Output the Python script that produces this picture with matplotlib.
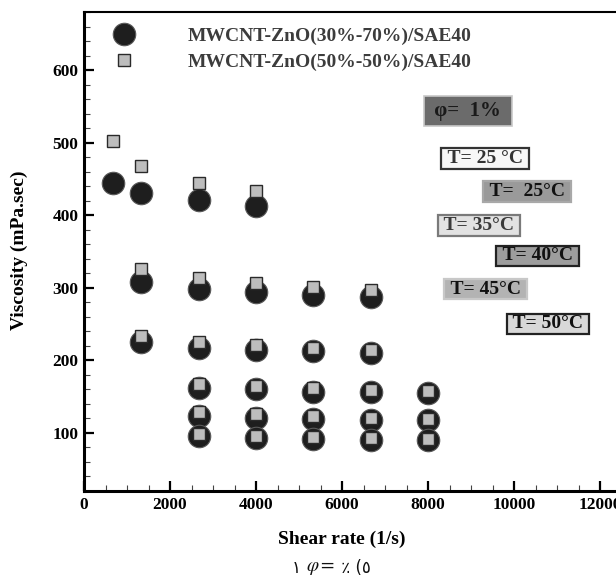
import matplotlib
matplotlib.use("Agg")
import matplotlib.pyplot as plt
from matplotlib.ticker import MultipleLocator
from matplotlib.lines import Line2D

# Shear rates (1/s) for each temperature group
rate_g1 = [667, 1333, 2667, 4000]
rate_g23 = [1333, 2667, 4000, 5333, 6667]
rate_g456 = [2667, 4000, 5333, 6667, 8000]
group_rates = [rate_g1, rate_g23, rate_g23, rate_g456, rate_g456, rate_g456]

# Viscosity (mPa.sec), MWCNT-ZnO(30%-70%)/SAE40
visc_30_70 = [
    [445, 430, 421, 413],
    [308, 298, 294, 290, 287],
    [225, 217, 214, 213, 210],
    [162, 160, 157, 156, 155],
    [124, 121, 119, 118, 118],
    [96, 93, 92, 90, 90],
]

# Viscosity (mPa.sec), MWCNT-ZnO(50%-50%)/SAE40
visc_50_50 = [
    [502, 468, 444, 433],
    [326, 313, 306, 301, 297],
    [234, 225, 221, 217, 214],
    [167, 165, 162, 159, 158],
    [129, 126, 123, 121, 119],
    [99, 96, 94, 93, 92],
]

series_labels = ["MWCNT-ZnO(30%-70%)/SAE40", "MWCNT-ZnO(50%-50%)/SAE40"]
phi_label = "φ=  1%"
temp_labels = ["T= 25 °C", "T=  25°C", "T= 35°C", "T= 40°C", "T= 45°C", "T= 50°C"]
x_ticks = [0, 2000, 4000, 6000, 8000, 10000, 12000]
y_ticks = [100, 200, 300, 400, 500, 600]

serif = ["Liberation Serif", "DejaVu Serif"]
plt.rcParams["font.family"] = serif
plt.rcParams["mathtext.fontset"] = "stix"

W, H = 616, 583
fig = plt.figure(figsize=(W / 100, H / 100), dpi=100)
ax = fig.add_axes([84 / W, 92 / H, (620 - 84) / W, 479 / H])

circle_style = dict(linestyle="none", marker="o", markersize=16.2,
                    markerfacecolor="#1e1e1e", markeredgecolor="#5a5a5a",
                    markeredgewidth=0.8)
square_style = dict(linestyle="none", marker="s", markersize=8.4,
                    markerfacecolor="#bdbdbd", markeredgecolor="#2a2a2a",
                    markeredgewidth=1.0)

for rates, vals in zip(group_rates, visc_30_70):
    ax.plot(rates, vals, zorder=3, **circle_style)
for rates, vals in zip(group_rates, visc_50_50):
    ax.plot(rates, vals, zorder=4, **square_style)

ax.set_xlim(0, 12465)
ax.set_ylim(20, 680)
ax.set_xticks(x_ticks)
ax.set_yticks(y_ticks)
ax.xaxis.set_minor_locator(MultipleLocator(500))
ax.yaxis.set_minor_locator(MultipleLocator(20))
ax.tick_params(which="major", direction="in", length=7.5, width=1.6,
               labelsize=12.5, pad=4)
ax.tick_params(which="minor", direction="in", length=4, width=0.8, color="#444")
ax.tick_params(top=False, right=False)
for lab in ax.get_xticklabels() + ax.get_yticklabels():
    lab.set_fontweight("bold")

ax.spines["left"].set_linewidth(2.2)
ax.spines["bottom"].set_linewidth(2.2)
ax.spines["top"].set_linewidth(1.5)
ax.spines["right"].set_visible(False)

ax.set_xlabel("Shear rate (1/s)", fontsize=14, fontweight="bold")
ax.set_ylabel("Viscosity (mPa.sec)", fontsize=14, fontweight="bold")
ax.xaxis.set_label_coords((342 - 84) / (620 - 84), -(531 - 491) / 479)
ax.yaxis.set_label_coords(-(84 - 28) / (620 - 84), (491 - 250) / 479)

handles = [
    Line2D([], [], **circle_style),
    Line2D([], [], **square_style),
]
leg = ax.legend(handles, series_labels, loc="upper left",
                bbox_to_anchor=(105 / W, 1 - 27 / H), bbox_transform=fig.transFigure,
                frameon=False, handlelength=2, handletextpad=2.24,
                borderpad=0, borderaxespad=0, labelspacing=0.46,
                prop=dict(family=serif, weight="bold", size=14))
for t in leg.get_texts():
    t.set_color("#3c3c3c")

# phi annotation box
fig.text(468 / W, 1 - 111 / H, " " + phi_label + " ", ha="center", va="center",
         fontsize=15, fontweight="bold", color="#1a1a1a",
         bbox=dict(boxstyle="square,pad=0.25", facecolor="#6b6b6b",
                   edgecolor="#c8c8c8", linewidth=1.2))

# temperature boxes: (center x, center y) in pixels, face, edge, text colour
box_specs = [
    ((485, 158.5), "#f7f7f7", "#333333", "#333333"),
    ((527, 191.5), "#9a9a9a", "#a8a8a8", "#111111"),
    ((479, 225.5), "#e2e2e2", "#7a7a7a", "#3a3a3a"),
    ((537.5, 256), "#9d9d9d", "#222222", "#111111"),
    ((485.5, 289), "#b3b3b3", "#c8c8c8", "#111111"),
    ((548, 324), "#d8d8d8", "#222222", "#111111"),
]
for label, ((cx, cy), fc, ec, tc) in zip(temp_labels, box_specs):
    fig.text(cx / W, 1 - cy / H, " " + label + " ", ha="center", va="center",
             fontsize=14, fontweight="bold", color=tc,
             bbox=dict(boxstyle="square,pad=0.08", facecolor=fc,
                       edgecolor=ec, linewidth=1.6))

# caption below the axis title
arabic = ["DejaVu Sans"]
c1 = fig.text(292 / W, 1 - 568 / H, "١ ", ha="left", va="center",
              fontsize=12, family=arabic, color="#111111")
c2 = ax.annotate(r"$\varphi =$", xy=(1, 0), xycoords=c1, ha="left", va="bottom",
                 fontsize=14, color="#111111", annotation_clip=False)
ax.annotate(" ٪ (٥", xy=(1, 0), xycoords=c2, ha="left", va="bottom",
            fontsize=12, family=arabic, color="#111111", annotation_clip=False)

fig.savefig("out.png", dpi=100)
